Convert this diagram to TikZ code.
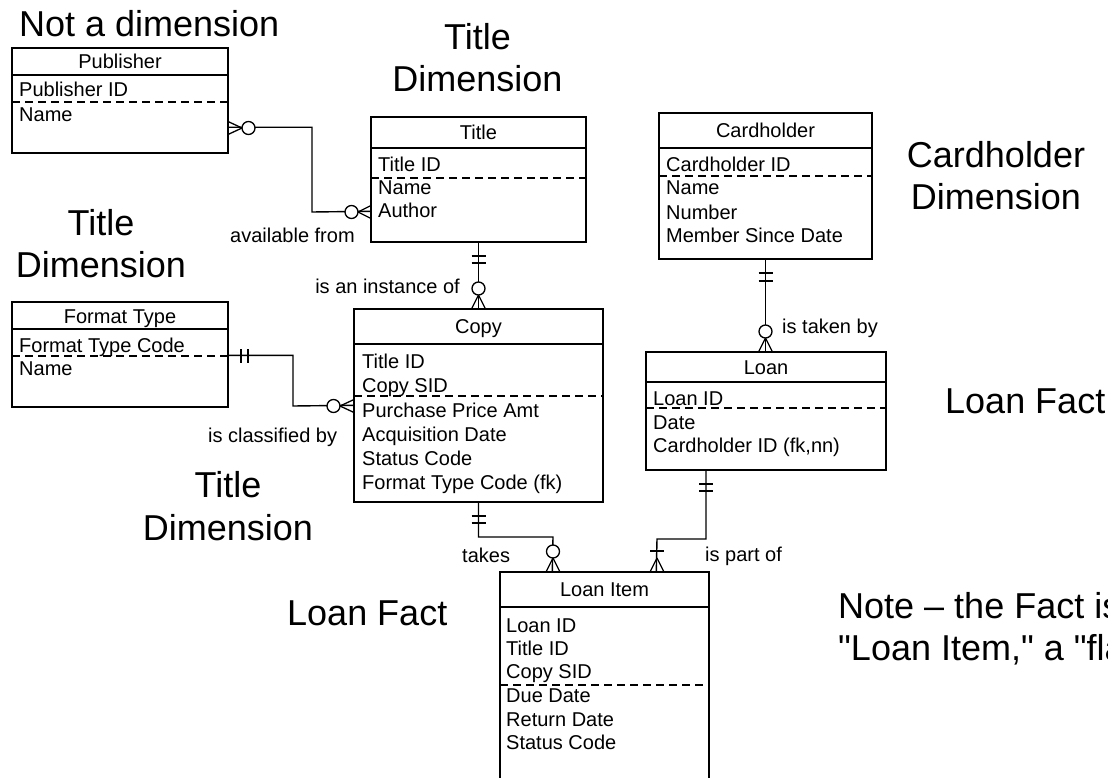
\documentclass[tikz,border=0pt]{standalone}
\usepackage{fontspec}
\setmainfont{Liberation Sans}
\newfontfamily\plainquotes{Liberation Sans}
\usetikzlibrary{calc}
\begin{document}
\begin{tikzpicture}[x=1pt,y=-1pt,
  ent/.style={draw, line width=1.4pt, inner sep=0pt},
  sep/.style={line width=1.3pt},
  dsep/.style={line width=1.3pt, dash pattern=on 8pt off 5pt},
  attr/.style={anchor=base west, inner sep=0pt, font=\fontsize{20}{24}\selectfont},
  etitle/.style={anchor=base, inner sep=0pt, font=\fontsize{20}{24}\selectfont},
  lab/.style={inner sep=0pt, font=\fontsize{20}{24}\selectfont},
  big/.style={inner sep=0pt, font=\fontsize{36}{42}\selectfont},
  conn/.style={line width=1.4pt},
  mk/.style={line width=1.3pt},
  circ/.style={draw, fill=white, line width=1.3pt}]
\useasboundingbox (0,0) rectangle (1108,778);
\fill[white] (0,0) rectangle (1108,778);
\clip (0,0) rectangle (1108,778);

% ---------- entities ----------
% Publisher
\node[ent, minimum width=216pt, minimum height=105pt] (pub) at (120,100.5) {};
\draw[sep] (12,75) -- (228,75);
\draw[dsep] (12,102) -- (228,102);
\node[etitle] (pubt) at (120,68.5) {Publisher};
\node[attr] (pub1) at (19,97) {Publisher ID};
\node[attr] (pub2) at (19,122) {Name};

% Title
\node[ent, minimum width=215pt, minimum height=125pt] (title) at (478.5,179.5) {};
\draw[sep] (371,148) -- (586,148);
\draw[dsep] (371,178) -- (586,178);
\node[etitle] (titlet) at (478.5,139.5) {Title};
\node[attr] (title1) at (378,172) {Title ID};
\node[attr] (title2) at (378,195) {Name};
\node[attr] (title3) at (378,218) {Author};

% Cardholder
\node[ent, minimum width=213pt, minimum height=146pt] (card) at (765.5,186) {};
\draw[sep] (659,148) -- (872,148);
\draw[dsep] (659,176) -- (872,176);
\node[etitle] (cardt) at (765.5,137.5) {Cardholder};
\node[attr] (card1) at (666,172) {Cardholder ID};
\node[attr] (card2) at (666,195) {Name};
\node[attr] (card3) at (666,219) {Number};
\node[attr] (card4) at (666,243) {Member Since Date};

% Format Type
\node[ent, minimum width=216pt, minimum height=105pt] (ft) at (120,354.5) {};
\draw[sep] (12,329) -- (228,329);
\draw[dsep] (12,356) -- (228,356);
\node[etitle] (ftt) at (120,323.5) {Format Type};
\node[attr] (ft1) at (19,352) {Format Type Code};
\node[attr] (ft2) at (19,375) {Name};

% Copy
\node[ent, minimum width=249pt, minimum height=193pt] (copy) at (478.5,405.5) {};
\draw[sep] (354,344) -- (603,344);
\draw[dsep] (354,396) -- (603,396);
\node[etitle] (copyt) at (478.5,333.5) {Copy};
\node[attr] (copy1) at (362,368) {Title ID};
\node[attr] (copy2) at (362,392.5) {Copy SID};
\node[attr] (copy3) at (362,417) {Purchase Price Amt};
\node[attr] (copy4) at (362,441) {Acquisition Date};
\node[attr] (copy5) at (362,465) {Status Code};
\node[attr] (copy6) at (362,489) {Format Type Code (fk)};

% Loan
\node[ent, minimum width=240pt, minimum height=118pt] (loan) at (766,411) {};
\draw[sep] (646,382) -- (886,382);
\draw[dsep] (646,408) -- (886,408);
\node[etitle] (loant) at (766,374) {Loan};
\node[attr] (loan1) at (653,405) {Loan ID};
\node[attr] (loan2) at (653,429) {Date};
\node[attr] (loan3) at (653,452) {Cardholder ID (fk,nn)};

% Loan Item
\node[ent, minimum width=209pt, minimum height=228pt] (li) at (604.5,686) {};
\draw[sep] (500,607) -- (709,607);
\draw[dsep] (500,685) -- (709,685);
\node[etitle] (lit) at (604.5,596.5) {Loan Item};
\node[attr] (li1) at (506,632) {Loan ID};
\node[attr] (li2) at (506,655) {Title ID};
\node[attr] (li3) at (506,678) {Copy SID};
\node[attr] (li4) at (506,702) {Due Date};
\node[attr] (li5) at (506,726) {Return Date};
\node[attr] (li6) at (506,749) {Status Code};

% ---------- connectors ----------
% Publisher -- Title
\draw[conn] ([yshift=-80pt]pub.north east) -| (312,212) -- ([yshift=-95pt]title.north west);
\draw[mk] (242,128) -- (228,121.5) (242,128) -- (228,134.5);
\draw[circ] (248.5,128) circle[radius=6.5];
\draw[mk] (358,212) -- (371,205.5) (358,212) -- (371,218.5);
\draw[circ] (351.5,212) circle[radius=6.5];

% Title -- Copy
\draw[conn] (title.south) -- (copy.north);
\draw[mk] (471.5,256) -- (485.5,256) (471.5,263) -- (485.5,263);
\draw[mk] (478.5,295) -- (471.5,309) (478.5,295) -- (485.5,309);
\draw[circ] (478.5,288.5) circle[radius=6.5];

% Format Type -- Copy
\draw[conn] ([yshift=-54pt]ft.north east) -| (293,406) -- ([yshift=-97pt]copy.north west);
\draw[mk] (241,349) -- (241,363) (248,349) -- (248,363);
\draw[mk] (340,406) -- (354,399.5) (340,406) -- (354,412.5);
\draw[circ] (333.5,406) circle[radius=6.5];

% Cardholder -- Loan
\draw[conn] (card.south) -- (card.south |- loan.north);
\draw[mk] (758.5,273) -- (772.5,273) (758.5,281) -- (772.5,281);
\draw[mk] (765.5,338) -- (758.5,352) (765.5,338) -- (772.5,352);
\draw[circ] (765.5,331.5) circle[radius=6.5];

% Copy -- Loan Item
\draw[conn] (copy.south) |- (553,537) -- ([xshift=53pt]li.north west);
\draw[mk] (471.5,516) -- (485.5,516) (471.5,523) -- (485.5,523);
\draw[mk] (553,558) -- (546,572) (553,558) -- (560,572);
\draw[circ] (553,551.5) circle[radius=6.5];

% Loan -- Loan Item
\draw[conn] ([xshift=-60pt]loan.south) |- (657,539) -- ([xshift=157pt]li.north west);
\draw[mk] (699,484) -- (713,484) (699,491) -- (713,491);
\draw[mk] (650,551) -- (664,551);
\draw[mk] (657,558) -- (650,572) (657,558) -- (664,572);

% ---------- relationship labels ----------
\node[lab, anchor=base west] (lab1) at (230,243) {available from};
\node[lab, anchor=base east] (lab2) at (460,293) {is an instance of};
\node[lab, anchor=base west] (lab3) at (208,442) {is classified by};
\node[lab, anchor=base west] (lab4) at (782,333) {is taken by};
\node[lab, anchor=base west] (lab5) at (462,562) {takes};
\node[lab, anchor=base west] (lab6) at (705,561) {is part of};

% ---------- big annotations ----------
\node[big, anchor=base west] (nd) at (19,37) {Not a dimension};
\node[big, anchor=base] (tda) at (477.5,50) {Title};
\node[big, anchor=base] (tdb) at (477.5,92) {Dimension};
\node[big, anchor=base] (tdc) at (101,235) {Title};
\node[big, anchor=base] (tdd) at (101,277) {Dimension};
\node[big, anchor=base] (cda) at (996,168) {Cardholder};
\node[big, anchor=base] (cdb) at (996,210) {Dimension};
\node[big, anchor=base west] (lfa) at (945,413) {Loan Fact};
\node[big, anchor=base] (tde) at (228,497) {Title};
\node[big, anchor=base] (tdf) at (228,540) {Dimension};
\node[big, anchor=base west] (lfb) at (287,625) {Loan Fact};
\node[big, anchor=base west] (notea) at (838,618) {Note – the Fact is};
\node[big, anchor=base west] (noteb) at (838,660) {\plainquotes "Loan Item," a "fla};
\end{tikzpicture}
\end{document}
